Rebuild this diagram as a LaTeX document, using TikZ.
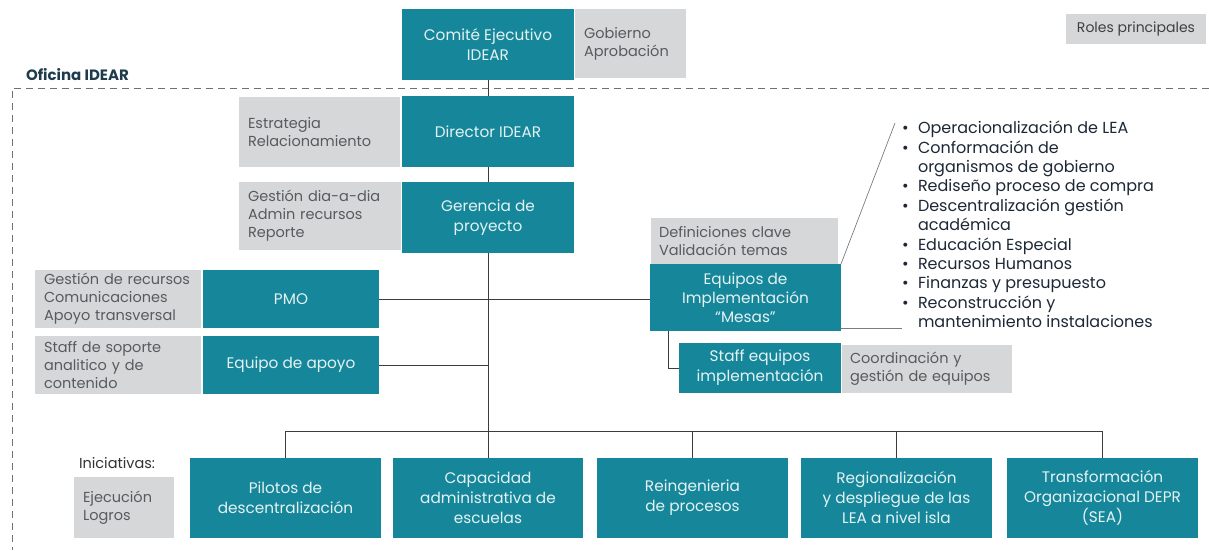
\documentclass[tikz,border=0pt]{standalone}
\usepackage{fontspec}
\setmainfont{Poppins}
\definecolor{brandteal}{HTML}{16879A}
\definecolor{tealtext}{HTML}{E4F2F4}
\definecolor{notegray}{HTML}{D5D7D8}
\definecolor{notetext}{HTML}{585B5E}
\definecolor{wirec}{HTML}{3A3D40}
\definecolor{leaderc}{HTML}{7A7D80}
\definecolor{listtext}{HTML}{1D2836}
\definecolor{officetext}{HTML}{1F3C4C}
\definecolor{framec}{HTML}{6E7174}
\tikzset{
  base/.style={inner sep=0pt, outer sep=0pt},
  sz/.style 2 args={minimum width=#1pt, minimum height=#2pt},
  tealbox/.style={base, fill=brandteal, text=tealtext, align=center,
    font=\fontsize{15.3}{20}\selectfont},
  notebox/.style={base, inner xsep=9pt, fill=notegray, text=notetext, align=left,
    font=\fontsize{14.5}{18}\selectfont},
  wire/.style={draw=wirec, line width=1pt},
  leader/.style={draw=leaderc, line width=0.7pt},
  frameline/.style={draw=framec, line width=0.9pt, dash pattern=on 7pt off 5pt},
  bulletlist/.style={base, anchor=north west, text=listtext, align=left,
    font=\fontsize{16}{19.4}\selectfont},
}
\newcommand{\bul}{\makebox[16pt][l]{\textbullet}}
\newcommand{\ind}{\hspace*{16pt}}
\begin{document}
\begin{tikzpicture}[x=1pt, y=-1pt]
\useasboundingbox (0,0) rectangle (1209,550);
\fill[white] (0,0) rectangle (1209,550);

% office frame (open on the right and at the bottom)
\draw[frameline] (1209,88) -- (12,88) -- (12,550);
\node[base, anchor=west, text=officetext, font=\fontsize{15}{18}\selectfont\bfseries]
  (oficina) at (26,75) {Oficina IDEAR};

% legend
\node[base, sz={140}{30}, fill=notegray, text=black!75, font=\fontsize{14}{16}\selectfont]
  (roles) at (1136,29) {Roles principales};

% governance chain
\node[tealbox, sz={172}{71}] (comite) at (488,44.5) {Comité Ejecutivo\\IDEAR};
\node[notebox, text width=93pt, minimum height=69pt] (gobierno) at (630.5,43.5)
  {Gobierno\\Aprobación};
\node[tealbox, sz={172}{71}] (director) at (488,131.5) {Director IDEAR};
\node[notebox, text width=143pt, minimum height=70pt] (estrategia) at (319.5,132)
  {Estrategia\\Relacionamiento};
\node[tealbox, sz={172}{71}] (gerencia) at (488,217.5) {Gerencia de\\proyecto};
\node[notebox, text width=144pt, minimum height=68pt] (gestion) at (320,216)
  {Gestión dia-a-dia\\Admin recursos\\Reporte};

% support units
\node[tealbox, sz={176}{58}] (pmo) at (291,299) {PMO};
\node[notebox, text width=148pt, minimum height=58pt] (pmonote) at (118,299)
  {Gestión de recursos\\Comunicaciones\\Apoyo transversal};
\node[tealbox, sz={176}{58}] (apoyo) at (291,365) {Equipo de apoyo};
\node[notebox, text width=148pt, minimum height=58pt] (apoyonote) at (118,365)
  {Staff de soporte\\analitico y de\\contenido};

% implementation teams
\node[notebox, inner xsep=8pt, text width=171pt, minimum height=46pt] (defin) at (744.5,241)
  {Definiciones clave\\Validación temas};
\node[tealbox, sz={191}{67}, font=\fontsize{15.3}{19}\selectfont] (equipos) at (745.5,297.5)
  {Equipos de\\Implementación\\“Mesas”};
\node[tealbox, sz={162}{50}] (staff) at (760,368) {Staff equipos\\implementación};
\node[notebox, inner xsep=8pt, text width=154pt, minimum height=48pt] (coord) at (927,369)
  {Coordinación y\\gestión de equipos};

\node[bulletlist] (mesas) at (902,121) {%
  \bul Operacionalización de LEA\\
  \bul Conformación de\\
  \ind organismos de gobierno\\
  \bul Rediseño proceso de compra\\
  \bul Descentralización gestión\\
  \ind académica\\
  \bul Educación Especial\\
  \bul Recursos Humanos\\
  \bul Finanzas y presupuesto\\
  \bul Reconstrucción y\\
  \ind mantenimiento instalaciones};

% initiatives
\node[base, anchor=west, text=black!80, font=\fontsize{14.5}{17}\selectfont]
  (inic) at (79,463) {Iniciativas:};
\node[notebox, text width=82pt, minimum height=61pt] (ejec) at (124,507.5)
  {Ejecución\\Logros};
\node[tealbox, sz={191}{80}] (pilotos) at (285.5,498) {Pilotos de\\descentralización};
\node[tealbox, sz={190}{80}] (capac) at (488,498) {Capacidad\\administrativa de\\escuelas};
\node[tealbox, sz={191}{80}] (reing) at (692.5,498) {Reingenieria\\de procesos};
\node[tealbox, sz={191}{80}] (region) at (896.5,498)
  {Regionalización\\y despliegue de las\\LEA a nivel isla};
\node[tealbox, sz={191}{80}] (transf) at (1102.5,498)
  {Transformación\\Organizacional DEPR\\(SEA)};

% connectors
\coordinate (bus) at (0,431);
\coordinate (listtop) at (895,123);
\coordinate (listbot) at (902,328);
\draw[wire] (comite) -- (director);
\draw[wire] (director) -- (gerencia);
\draw[wire] (gerencia) -- (capac);
\draw[wire] (pmo.east) -- (pmo.east -| equipos.west);
\draw[wire] (apoyo.east) -- (apoyo.east -| gerencia.south);
\draw[wire] (pilotos.north) |- (bus -| transf.north) -- (transf.north);
\draw[wire] (reing.north) -- (reing.north |- bus);
\draw[wire] (region.north) -- (region.north |- bus);
\draw[wire] ([xshift=18pt]equipos.south west) |- (staff.west);
\draw[leader] (equipos.north east) -- (listtop);
\draw[leader] ([yshift=3pt]equipos.south east) -- (listbot);
\end{tikzpicture}
\end{document}
